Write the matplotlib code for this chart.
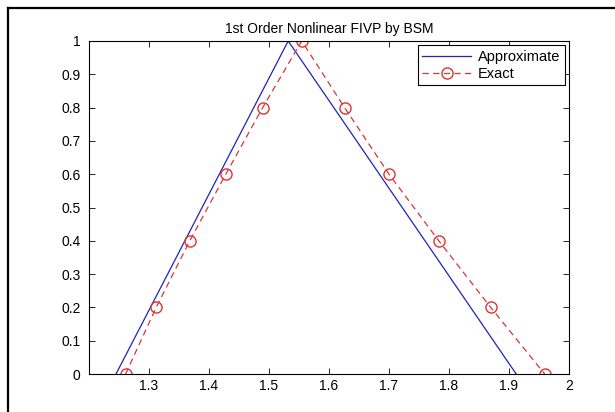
import matplotlib
matplotlib.use("Agg")
from matplotlib import pyplot as plt
from matplotlib.lines import Line2D

approx_x = [1.245, 1.532, 1.912]
approx_y = [0, 1, 0]
exact_x = [1.261, 1.312, 1.368, 1.428, 1.4895, 1.5545, 1.626, 1.700, 1.783, 1.8695, 1.9595]
exact_y = [0, 0.2, 0.4, 0.6, 0.8, 1.0, 0.8, 0.6, 0.4, 0.2, 0]
x_ticks = [1.3, 1.4, 1.5, 1.6, 1.7, 1.8, 1.9, 2]
y_ticks = [0, 0.1, 0.2, 0.3, 0.4, 0.5, 0.6, 0.7, 0.8, 0.9, 1]

plt.rcParams['font.family'] = ['Liberation Sans', 'DejaVu Sans']
fig = plt.figure(figsize=(6.15, 4.12), dpi=100)
ax = fig.add_axes([0.1447, 0.0922, 0.7805, 0.8083])

# screenshot frame: only top and left edges show
fx, fy = 7.5 / 615, 1 - 7.5 / 412
fig.add_artist(Line2D([fx, 1], [fy, fy], transform=fig.transFigure, color='black', lw=1.6))
fig.add_artist(Line2D([fx, fx], [0, fy], transform=fig.transFigure, color='black', lw=1.6))

ax.plot(approx_x, approx_y, color='#2222bb', lw=0.9, label='Approximate')
ax.plot(exact_x, exact_y, '--o', color='#dd3333', lw=0.9, ms=8,
        mfc='none', mec='#dd3333', mew=1.0, dashes=(5, 3.5), label='Exact')

ax.set_xlim(1.2, 2)
ax.set_ylim(0, 1)
ax.set_xticks(x_ticks)
ax.set_xticklabels([f"{t:g}" for t in x_ticks])
ax.set_yticks(y_ticks)
ax.set_yticklabels([f"{t:g}" for t in y_ticks])
ax.tick_params(direction='in', labelsize=10, top=True, right=True, length=4, width=0.6)
ax.tick_params(axis='y', pad=6)
for s in ax.spines.values():
    s.set_linewidth(0.8)
ax.set_title("1st Order Nonlinear FIVP by BSM", fontsize=10, pad=6)

leg = ax.legend(loc='upper right', fontsize=10.5, fancybox=False, framealpha=1,
                edgecolor='black', borderaxespad=0.3, handlelength=3.3,
                labelspacing=0.2, borderpad=0.3, handletextpad=0.5)
leg.get_frame().set_linewidth(0.8)

fig.savefig("out.png", dpi=100)
plt.close(fig)
